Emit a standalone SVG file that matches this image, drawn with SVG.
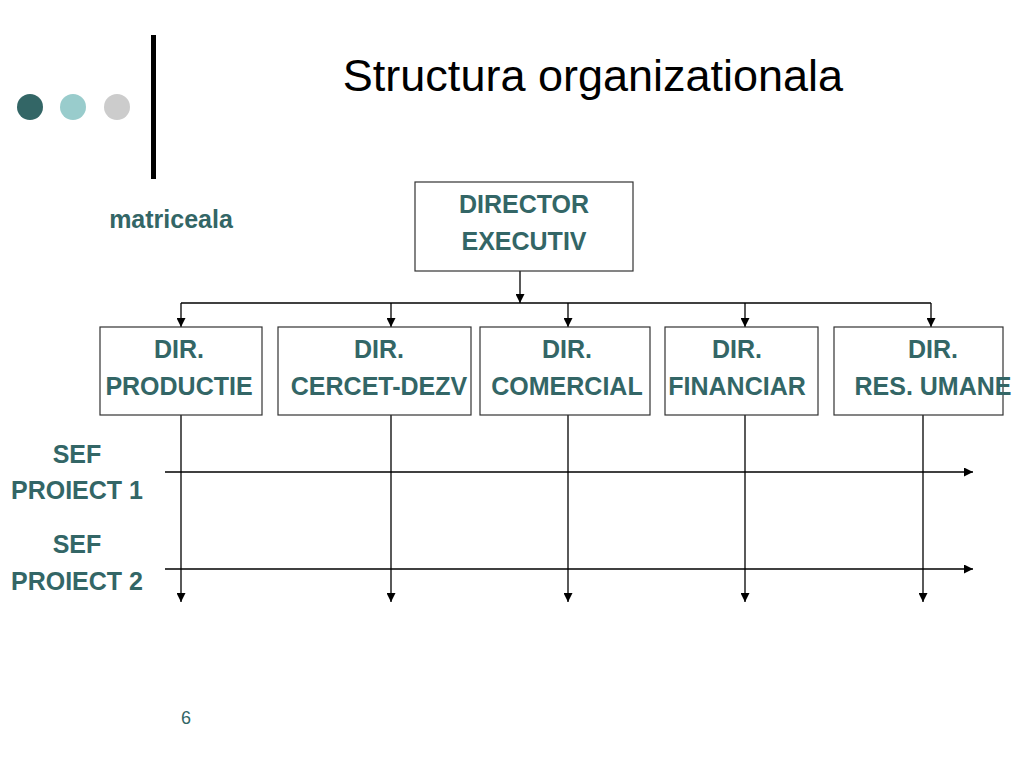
<svg xmlns="http://www.w3.org/2000/svg" width="1024" height="768" viewBox="0 0 1024 768">
<defs>
<marker id="ah" viewBox="0 0 10 10" refX="10" refY="5" markerWidth="10" markerHeight="9" markerUnits="userSpaceOnUse" orient="auto">
<path d="M0,0 L10,5 L0,10 Z" fill="#000"/>
</marker>
<style>
.box{fill:#fff;stroke:#333;stroke-width:1.2}
.lbl{font-family:"Liberation Sans",Arial,sans-serif;font-weight:bold;font-size:25px;fill:#336666;text-anchor:middle}
.ln{stroke:#000;stroke-width:1.3;fill:none}
.arr{stroke:#000;stroke-width:1.3;fill:none;marker-end:url(#ah)}
</style>
</defs>
<rect width="1024" height="768" fill="#fff"/>
<g id="decor">
<circle cx="30" cy="107" r="13" fill="#336666"/>
<circle cx="73" cy="107" r="13" fill="#99cccc"/>
<circle cx="117" cy="107" r="13" fill="#cccccc"/>
<rect x="151" y="35" width="5" height="144" fill="#000"/>
</g>
<text x="593" y="91" font-family="'Liberation Sans',Arial,sans-serif" font-size="45" fill="#000" text-anchor="middle">Structura organizationala</text>
<text x="171" y="228" class="lbl">matriceala</text>
<g id="connectors">
<line class="arr" x1="520" y1="271" x2="520" y2="303"/>
<line class="ln" x1="181" y1="303" x2="931" y2="303"/>
<line class="arr" x1="181" y1="303" x2="181" y2="327"/>
<line class="arr" x1="391" y1="303" x2="391" y2="327"/>
<line class="arr" x1="568" y1="303" x2="568" y2="327"/>
<line class="arr" x1="745" y1="303" x2="745" y2="327"/>
<line class="arr" x1="931" y1="303" x2="931" y2="327"/>
<line class="arr" x1="181" y1="415" x2="181" y2="602"/>
<line class="arr" x1="391" y1="415" x2="391" y2="602"/>
<line class="arr" x1="568" y1="415" x2="568" y2="602"/>
<line class="arr" x1="745" y1="415" x2="745" y2="602"/>
<line class="arr" x1="923" y1="415" x2="923" y2="602"/>
<line class="arr" x1="165" y1="472" x2="973" y2="472"/>
<line class="arr" x1="165" y1="569" x2="973" y2="569"/>
</g>
<g id="director">
<rect class="box" x="415" y="182" width="218" height="89"/>
<text class="lbl" x="524" y="213">DIRECTOR</text>
<text class="lbl" x="524" y="250">EXECUTIV</text>
</g>
<g id="productie">
<rect class="box" x="100" y="327" width="162" height="88"/>
<text class="lbl" x="179" y="358">DIR.</text>
<text class="lbl" x="179" y="395">PRODUCTIE</text>
</g>
<g id="cercet">
<rect class="box" x="278" y="327" width="193" height="88"/>
<text class="lbl" x="379" y="358">DIR.</text>
<text class="lbl" x="379" y="395">CERCET-DEZV</text>
</g>
<g id="comercial">
<rect class="box" x="480" y="327" width="170" height="88"/>
<text class="lbl" x="567" y="358">DIR.</text>
<text class="lbl" x="567" y="395">COMERCIAL</text>
</g>
<g id="financiar">
<rect class="box" x="665" y="327" width="153" height="88"/>
<text class="lbl" x="737" y="358">DIR.</text>
<text class="lbl" x="737" y="395">FINANCIAR</text>
</g>
<g id="resumane">
<rect class="box" x="834" y="327" width="169" height="88"/>
<text class="lbl" x="933" y="358">DIR.</text>
<text class="lbl" x="933" y="395">RES. UMANE</text>
</g>
<g id="sef1">
<text class="lbl" x="77" y="463">SEF</text>
<text class="lbl" x="77" y="499">PROIECT 1</text>
</g>
<g id="sef2">
<text class="lbl" x="77" y="553">SEF</text>
<text class="lbl" x="77" y="590">PROIECT 2</text>
</g>
<text x="186" y="724" font-family="'Liberation Sans',Arial,sans-serif" font-size="18" fill="#336666" text-anchor="middle">6</text>
</svg>
